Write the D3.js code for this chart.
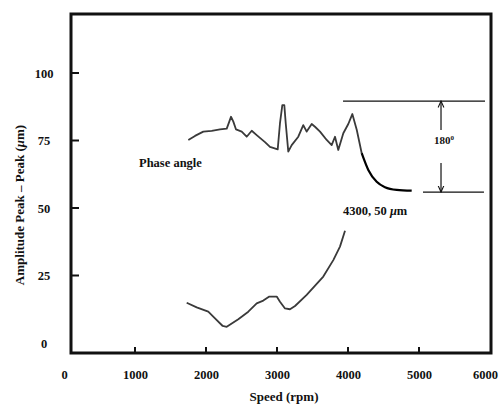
<!DOCTYPE html>
<html>
<head>
<meta charset="utf-8">
<script src="https://cdn.jsdelivr.net/npm/d3@7"></script>
<style>
  html, body { margin: 0; padding: 0; background: #ffffff; }
  svg text { font-family: "Liberation Serif", "Times New Roman", serif !important; font-weight: bold; fill: #111; }
</style>
</head>
<body>
<svg id="chart" width="499" height="405"></svg>
<script>
// ---- data ----
const xTicks = [0, 1000, 2000, 3000, 4000, 5000, 6000];
const yTicks = [0, 25, 50, 75, 100];

// amplitude (µm) vs speed (rpm)
const ampSpeed = [1728, 1869, 2032, 2127, 2235, 2292, 2455, 2596, 2714, 2807, 2892, 2996, 3042, 3113, 3183, 3254, 3418, 3652, 3793, 3887, 3958];
const ampValue = [14.9, 13.2, 11.6, 9.1, 6.3, 6.0, 8.8, 11.6, 14.7, 15.7, 17.2, 17.2, 15.3, 12.8, 12.5, 13.7, 17.8, 24.6, 30.7, 35.7, 41.6];

// phase angle trace (plotted in the same frame, chart units)
const phaseSpeed = [1751, 1845, 1962, 2080, 2197, 2292, 2328, 2352, 2385, 2423, 2503, 2573, 2644, 2714, 2831, 2901, 3010, 3042, 3075, 3103, 3123, 3159, 3207, 3300, 3370, 3418, 3489, 3535, 3606, 3700, 3770, 3817, 3863, 3934, 4004, 4061, 4123, 4193];
const phaseValue = [75.2, 76.7, 78.3, 78.6, 79.1, 79.4, 82.0, 83.8, 82.0, 79.1, 78.3, 76.4, 78.6, 77.0, 74.4, 72.6, 71.7, 81.4, 88.1, 88.1, 81.4, 70.9, 73.3, 76.4, 80.7, 78.3, 81.1, 80.1, 78.3, 75.2, 73.3, 76.4, 71.5, 77.7, 81.1, 84.8, 79.0, 70.3];
const phaseTailSpeed = [4193, 4286, 4404, 4521, 4686, 4897];
const phaseTailValue = [70.3, 64.1, 59.7, 57.7, 56.7, 56.4];

// 180 degree annotation
const topRefLine = { x0: 3930, x1: 5930, y: 89.6 };
const bottomRefLine = { x0: 5056, x1: 5915, y: 55.9 };
const arrowSpeed = 5310;
const arrowUpper = [78.9, 89.6];
const arrowLower = [66.7, 55.9];

const labels = {
  phase: "Phase angle",
  deg: "180",
  point: "4300, 50 ",
  xTitle: "Speed (rpm)"
};

// ---- drawing ----
const FONT = "'Liberation Serif', 'Times New Roman', serif";
const svg = d3.select("#chart");
const frame = { left: 71, top: 14, right: 491, bottom: 353 };

const x = d3.scaleLinear().domain([0, 6000]).range([64, 490]);
const y = d3.scaleLinear().domain([0, 100]).range([343, 73]);

svg.append("defs").append("marker")
  .attr("id", "arrow").attr("viewBox", "0 0 10 10")
  .attr("refX", 9).attr("refY", 5)
  .attr("markerWidth", 6).attr("markerHeight", 6)
  .attr("orient", "auto-start-reverse")
  .append("path").attr("d", "M0,1 L9,5 L0,9").attr("fill", "none").attr("stroke", "#111").attr("stroke-width", 1.5);

// frame
svg.append("rect")
  .attr("x", frame.left).attr("y", frame.top)
  .attr("width", frame.right - frame.left).attr("height", frame.bottom - frame.top)
  .attr("fill", "none").attr("stroke", "#111").attr("stroke-width", 3);

// x axis
const xAxis = svg.append("g")
  .attr("transform", `translate(0,${frame.bottom})`)
  .attr("font-family", FONT)
  .call(d3.axisBottom(x).tickValues(xTicks).tickSize(0).tickPadding(17).tickFormat(d3.format("d")));
xAxis.attr("font-family", FONT);
xAxis.select(".domain").remove();
xAxis.selectAll("text").attr("font-size", 12.5).attr("fill", "#111")
  .attr("dx", d => d === 6000 ? -5 : 0);
// tick marks (upward)
svg.append("g").selectAll("line")
  .data(xTicks.filter(d => d > 0 && d < 6000))
  .join("line")
  .attr("x1", d => x(d)).attr("x2", d => x(d))
  .attr("y1", frame.bottom).attr("y2", frame.bottom - 6)
  .attr("stroke", "#111").attr("stroke-width", 2);

// y axis
const yAxis = svg.append("g")
  .attr("transform", `translate(${frame.left},0)`)
  .call(d3.axisLeft(y).tickValues(yTicks).tickSize(0).tickPadding(19).tickFormat(d3.format("d")));
yAxis.attr("font-family", FONT);
yAxis.select(".domain").remove();
yAxis.selectAll("text").attr("font-size", 12.5).attr("fill", "#111").attr("text-anchor", "middle").attr("dx", "-8");
svg.append("g").selectAll("line")
  .data(yTicks.filter(d => d > 0))
  .join("line")
  .attr("x1", frame.left).attr("x2", frame.left + 8)
  .attr("y1", d => y(d)).attr("y2", d => y(d))
  .attr("stroke", "#111").attr("stroke-width", 2);

// axis titles
const yTitle = svg.append("text")
  .attr("transform", "translate(24,205) rotate(-90)")
  .attr("text-anchor", "middle").attr("font-size", 13);
yTitle.append("tspan").text("Amplitude Peak \u2013 Peak (");
yTitle.append("tspan").attr("font-style", "italic").text("\u03bc");
yTitle.append("tspan").text("m)");

svg.append("text")
  .attr("x", 284).attr("y", 401)
  .attr("text-anchor", "middle").attr("font-size", 13)
  .text(labels.xTitle);

// curves
const line = d3.line().x(d => x(d[0])).y(d => y(d[1]));

svg.append("path")
  .datum(ampSpeed.map((s, i) => [s, ampValue[i]]))
  .attr("d", line)
  .attr("fill", "none").attr("stroke", "#3a3a3a").attr("stroke-width", 1.8)
  .attr("stroke-linejoin", "round");

svg.append("path")
  .datum(phaseSpeed.map((s, i) => [s, phaseValue[i]]))
  .attr("d", line)
  .attr("fill", "none").attr("stroke", "#3a3a3a").attr("stroke-width", 1.8)
  .attr("stroke-linejoin", "round");

svg.append("path")
  .datum(phaseTailSpeed.map((s, i) => [s, phaseTailValue[i]]))
  .attr("d", d3.line().x(d => x(d[0])).y(d => y(d[1])).curve(d3.curveMonotoneX))
  .attr("fill", "none").attr("stroke", "#000").attr("stroke-width", 2.2)
  .attr("stroke-linejoin", "round");

// 180 degree annotation
svg.append("line")
  .attr("x1", x(topRefLine.x0)).attr("x2", x(topRefLine.x1))
  .attr("y1", y(topRefLine.y)).attr("y2", y(topRefLine.y))
  .attr("stroke", "#111").attr("stroke-width", 1.2);
svg.append("line")
  .attr("x1", x(bottomRefLine.x0)).attr("x2", x(bottomRefLine.x1))
  .attr("y1", y(bottomRefLine.y)).attr("y2", y(bottomRefLine.y))
  .attr("stroke", "#111").attr("stroke-width", 1.2);
svg.append("line")
  .attr("x1", x(arrowSpeed)).attr("x2", x(arrowSpeed))
  .attr("y1", y(arrowUpper[0])).attr("y2", y(arrowUpper[1]))
  .attr("stroke", "#111").attr("stroke-width", 1.2).attr("marker-end", "url(#arrow)");
svg.append("line")
  .attr("x1", x(arrowSpeed)).attr("x2", x(arrowSpeed))
  .attr("y1", y(arrowLower[0])).attr("y2", y(arrowLower[1]))
  .attr("stroke", "#111").attr("stroke-width", 1.2).attr("marker-end", "url(#arrow)");

const degText = svg.append("text")
  .attr("x", 434).attr("y", 144).attr("font-size", 11);
degText.append("tspan").text(labels.deg);
degText.append("tspan").attr("font-size", 7).attr("dy", -4).text("0");

svg.append("text")
  .attr("x", 139).attr("y", 167).attr("font-size", 12.5)
  .text(labels.phase);

const ptText = svg.append("text")
  .attr("x", 343).attr("y", 215).attr("font-size", 12.5);
ptText.append("tspan").text(labels.point);
ptText.append("tspan").attr("font-style", "italic").text("\u03bc");
ptText.append("tspan").text("m");

svg.selectAll("text").attr("font-family", FONT);
</script>
</body>
</html>
